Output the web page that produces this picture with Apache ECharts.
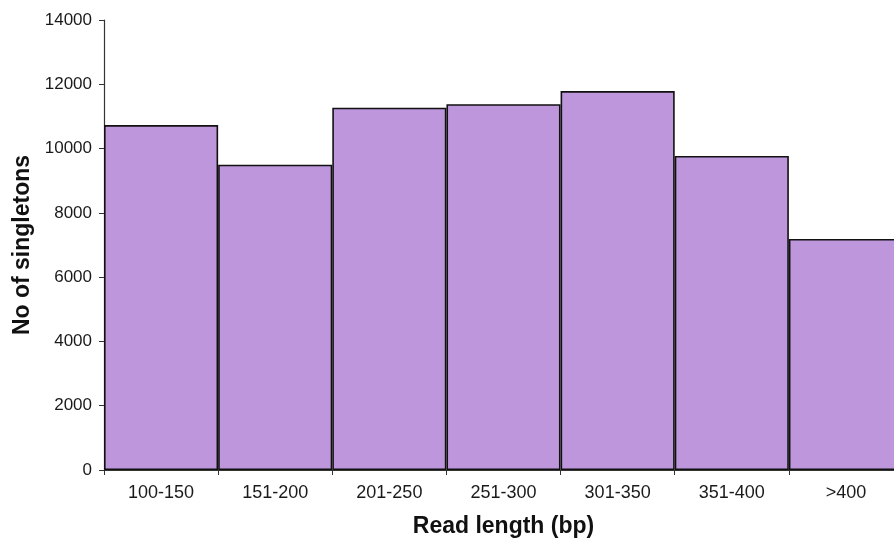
<!DOCTYPE html>
<html>
<head>
<meta charset="utf-8">
<script src="https://cdn.jsdelivr.net/npm/echarts@6/dist/echarts.min.js"></script>
<style>
  html, body { margin: 0; padding: 0; background: #fff; }
  #chart { width: 894px; height: 539px; }
</style>
</head>
<body>
<div id="chart"></div>
<script>
const categories = ['100-150', '151-200', '201-250', '251-300', '301-350', '351-400', '>400'];
const singletons = [10730, 9500, 11270, 11380, 11790, 9770, 7190];
const yTicks = { min: 0, max: 14000, interval: 2000 };

const chart = echarts.init(document.getElementById('chart'), null, { renderer: 'canvas' });
const font = 'Liberation Sans, Arial, sans-serif';

const option = {
  animation: false,
  backgroundColor: '#ffffff',
  // the last bar runs past the right edge of the picture
  grid: { left: 104, top: 20, bottom: 69, width: 799, containLabel: false, outerBoundsMode: 'none' },
  xAxis: {
    type: 'category',
    data: categories,
    name: 'Read length (bp)',
    nameLocation: 'middle',
    nameGap: 45,
    nameTextStyle: { fontFamily: font, fontSize: 23, fontWeight: 'bold', color: '#111' },
    axisLine: { lineStyle: { color: '#333', width: 1.2 } },
    axisTick: { show: true, alignWithLabel: false, length: 5, lineStyle: { color: '#333' } },
    axisLabel: { fontFamily: font, fontSize: 18, color: '#1a1a1a', margin: 14 },
    splitLine: { show: false }
  },
  yAxis: {
    type: 'value',
    min: yTicks.min,
    max: yTicks.max,
    interval: yTicks.interval,
    name: 'No of singletons',
    nameLocation: 'middle',
    nameGap: 70,
    nameTextStyle: { fontFamily: font, fontSize: 23, fontWeight: 'bold', color: '#111' },
    axisLine: { show: true, lineStyle: { color: '#333', width: 1.2 } },
    axisTick: { show: true, length: 5, lineStyle: { color: '#333' } },
    axisLabel: { fontFamily: font, fontSize: 17, color: '#1a1a1a', margin: 12, formatter: v => String(v) },
    splitLine: { show: false }
  },
  series: [{
    type: 'bar',
    data: singletons,
    barCategoryGap: '0%',
    itemStyle: { color: '#BD96DC', borderColor: '#111', borderWidth: 1.6 }
  }]
};
chart.setOption(option);
</script>
</body>
</html>
